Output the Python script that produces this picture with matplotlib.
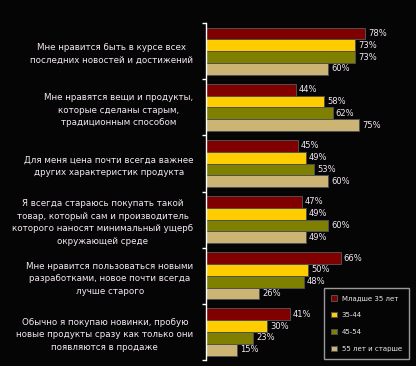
import numpy as np
import matplotlib.pyplot as plt

categories = [
    "Мне нравится быть в курсе всех\nпоследних новостей и достижений",
    "Мне нравятся вещи и продукты,\nкоторые сделаны старым,\nтрадиционным способом",
    "Для меня цена почти всегда важнее\nдругих характеристик продукта",
    "Я всегда стараюсь покупать такой\nтовар, который сам и производитель\nкоторого наносят минимальный ущерб\nокружающей среде",
    "Мне нравится пользоваться новыми\nразработками, новое почти всегда\nлучше старого",
    "Обычно я покупаю новинки, пробую\nновые продукты сразу как только они\nпоявляются в продаже",
]
groups = ["Младше 35 лет", "35-44", "45-54", "55 лет и старше"]
under35 = [78, 44, 45, 47, 66, 41]
age35_44 = [73, 58, 49, 49, 50, 30]
age45_54 = [73, 62, 53, 60, 48, 23]
over55 = [60, 75, 60, 49, 26, 15]
series = [under35, age35_44, age45_54, over55]
colors = ["#800000", "#FFCC00", "#808000", "#CCB474"]

bg = "#050505"
fig = plt.figure(figsize=(4.16, 3.66), dpi=100, facecolor=bg)
ax = fig.add_axes([0.495, 0.016, 0.491, 0.921], facecolor=bg)

y = np.arange(len(categories))
h = 0.21
for i, vals in enumerate(series):
    pos = y + (i - 1.5) * h
    bars = ax.barh(pos, vals, height=h, color=colors[i], edgecolor="#505050",
                   linewidth=0.7, label=groups[i])
    for b, v in zip(bars, vals):
        ax.text(b.get_width() + 1.5, b.get_y() + b.get_height() / 2, f"{v}%",
                va="center", ha="left", fontsize=6, color="#F4E8F4")

ax.set_xlim(0, 100)
ax.set_ylim(len(categories) - 0.5, -0.5)
ax.set_xticks([])
ax.set_yticks(y)
ax.set_yticklabels(categories, fontsize=6.3, color="#F4E8F4",
                   multialignment="center", linespacing=1.5)
ax.set_yticks(np.arange(-0.5, len(categories)), minor=True)
ax.tick_params(axis="y", which="major", length=0, pad=9)
ax.tick_params(axis="y", which="minor", length=3, color="white", width=1)
for s in ["top", "right", "bottom"]:
    ax.spines[s].set_visible(False)
ax.spines["left"].set_color("white")
ax.spines["left"].set_linewidth(1)

leg = ax.legend(loc="lower right", fontsize=5, frameon=True, facecolor=bg,
                edgecolor="#C0C0C0", labelcolor="#E8E8E8", handlelength=0.8,
                handleheight=0.8, labelspacing=1.55, borderpad=1.0,
                handletextpad=0.7, fancybox=False, borderaxespad=0.2)
leg.get_frame().set_linewidth(1)

fig.savefig("out.png", dpi=100, facecolor=bg)
